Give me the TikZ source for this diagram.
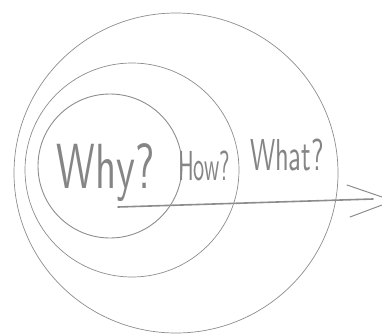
\documentclass[tikz,border=0pt]{standalone}
\usepackage{graphicx}
\definecolor{sketch}{HTML}{8C8C8C}
\definecolor{ink}{HTML}{858585}
\begin{document}
\begin{tikzpicture}[x=1pt,y=-1pt,
  ring/.style={draw=sketch, line width=0.7pt},
  word/.style={text=ink, inner sep=0pt, font=\sffamily},
  shaft/.style={draw=sketch, line width=1.6pt, line cap=round},
  headstroke/.style={draw=sketch, line width=1pt, line cap=round}]
\useasboundingbox (0,0) rectangle (382,335);
\draw[ring] (176,173) ellipse [x radius=162, y radius=160];
\draw[ring] (132,170) circle (107);
\draw[ring, line width=0.9pt] (110,166) circle (72);
\node[word] (why) at (106,173) {\resizebox*{98pt}{58pt}{Why?}};
\node[word] (how) at (204,166) {\resizebox*{52pt}{30pt}{How?}};
\node[word] (what) at (287,155) {\resizebox*{74pt}{32pt}{What?}};
\coordinate (s) at (118,207);
\coordinate (e) at (373,199);
\coordinate (hu) at (347,185);
\coordinate (hl) at (350,217);
\coordinate (tu) at (382,197);
\coordinate (tl) at (382,205);
\draw[shaft] (s) -- (e);
\draw[headstroke] (hu) -- (tu);
\draw[headstroke] (hl) -- (tl);
\end{tikzpicture}
\end{document}
